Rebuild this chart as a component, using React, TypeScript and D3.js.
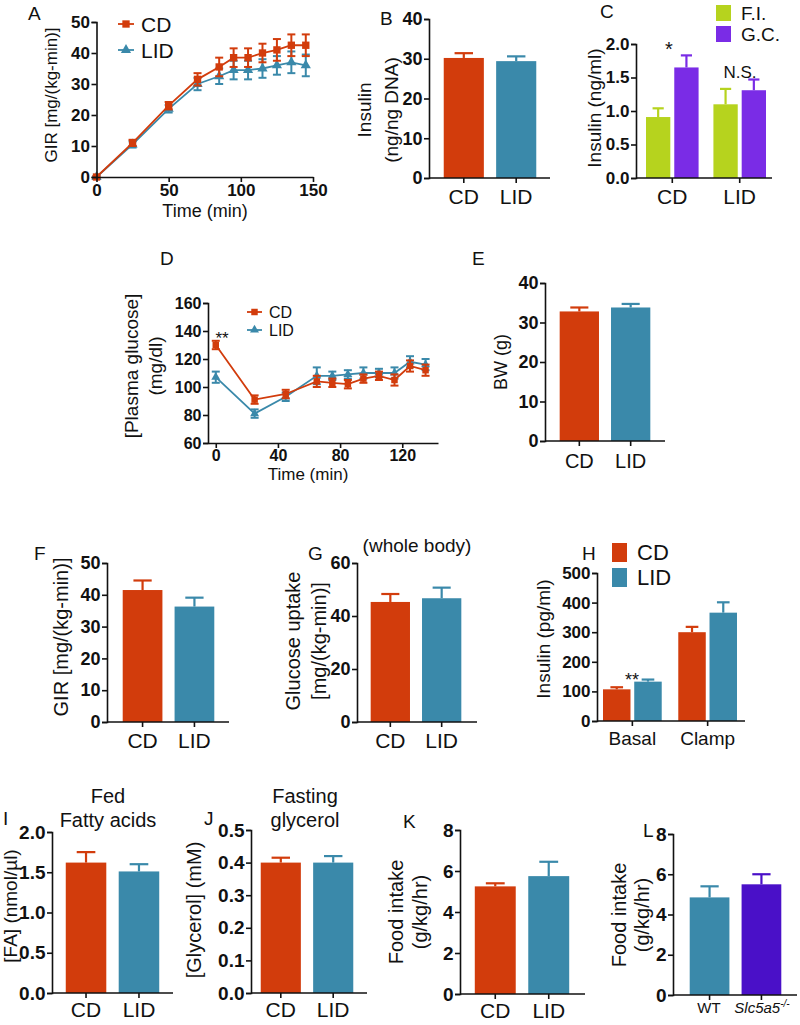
import React, { useRef, useEffect } from "react";
import * as d3 from "d3";

const FONT = "'Liberation Sans', Arial, Helvetica, sans-serif";
const RED = "#d23c0c";
const TEAL = "#3a89aa";
const LIME = "#b6d31e";
const VIOLET = "#7a2ce6";
const INDIGO = "#4a10c8";

// A: GIR time course
const aTime = [0, 25, 50, 70, 85, 95, 105, 115, 125, 135, 145];
const aCD = [0, 11, 23, 31.5, 35.5, 38.5, 38.5, 40, 41, 42.5, 42.5];
const aCDErr = [0.3, 1, 1.2, 2, 3, 3, 3, 3, 3.5, 3.5, 3.5];
const aLID = [0, 10.5, 22, 30, 32.5, 34.5, 34.5, 35, 36, 37, 36];
const aLIDErr = [0.3, 1, 1.2, 2, 2.5, 3, 3, 3, 3, 3.5, 3.5];

// B
const groupCats = ["CD", "LID"];
const bInsulin = [30.2, 29.4];
const bInsulinErr = [1.2, 1.2];

// C
const cSeries = ["F.I.", "G.C."];
const cFI = [0.91, 1.1];
const cFIErr = [0.13, 0.23];
const cGC = [1.65, 1.31];
const cGCErr = [0.18, 0.16];

// D: plasma glucose time course
const dTime = [0, 25, 45, 65, 75, 85, 95, 105, 115, 125, 135];
const dCD = [130, 91, 95, 104, 103, 102, 106, 108, 105, 115, 112];
const dCDErr = [3, 3, 3, 4, 3, 3, 3, 3, 4, 4, 4];
const dLID = [107, 81, 93, 108, 108, 109, 110, 110, 110, 118, 116];
const dLIDErr = [4, 3, 3, 6, 3, 3, 4, 3, 4, 4, 4];

// E
const eBW = [32.8, 33.8];
const eBWErr = [1.0, 0.9];

// F
const fGIR = [41.5, 36.3];
const fGIRErr = [3, 2.8];

// G
const gUptake = [45.3, 46.7];
const gUptakeErr = [3, 4];

// H
const hGroups = ["Basal", "Clamp"];
const hCD = [107, 300];
const hCDErr = [7, 18];
const hLID = [133, 366];
const hLIDErr = [7, 35];

// I, J, K
const iFA = [1.62, 1.51];
const iFAErr = [0.13, 0.09];
const jGlycerol = [0.4, 0.4];
const jGlycerolErr = [0.015, 0.02];
const kFood = [5.25, 5.75];
const kFoodErr = [0.15, 0.7];

// L
const lCats = ["WT", "Slc5a5"];
const lFood = [4.85, 5.5];
const lFoodErr = [0.55, 0.5];

function YAxis({ scale, x, ticks, fmt, size }: any) {
  const ref = useRef<SVGGElement>(null);
  useEffect(() => {
    const g = d3.select(ref.current);
    g.call(d3.axisLeft(scale).tickValues(ticks).tickSize(5).tickPadding(1.5).tickFormat(fmt));
    g.attr("font-family", null).attr("font-size", null);
    g.select(".domain").attr("stroke", "#111").attr("stroke-width", 1.6);
    g.selectAll(".tick line").attr("stroke", "#111").attr("stroke-width", 1.6);
    g.selectAll(".tick text")
      .attr("font-family", FONT)
      .attr("font-size", size)
      .attr("font-weight", "bold")
      .attr("fill", "#111");
  }, []);
  return <g ref={ref} transform={`translate(${x},0)`} />;
}

function XAxisLinear({ scale, y, ticks, size }: any) {
  const ref = useRef<SVGGElement>(null);
  useEffect(() => {
    const g = d3.select(ref.current);
    g.call(d3.axisBottom(scale).tickValues(ticks).tickSize(5).tickSizeOuter(0).tickPadding(2));
    g.attr("font-family", null).attr("font-size", null);
    g.select(".domain").attr("stroke", "#111").attr("stroke-width", 1.6);
    g.selectAll(".tick line").attr("stroke", "#111").attr("stroke-width", 1.6);
    g.selectAll(".tick text")
      .attr("font-family", FONT)
      .attr("font-size", size)
      .attr("font-weight", "bold")
      .attr("fill", "#111");
  }, []);
  return <g ref={ref} transform={`translate(0,${y})`} />;
}

function YTitle({ lines, x, y, size }: any) {
  return (
    <g>
      {lines.map((t: string, i: number) => (
        <text
          key={i}
          transform={`translate(${x[i]},${y}) rotate(-90)`}
          textAnchor="middle"
          dominantBaseline="middle"
          fontFamily={FONT}
          fontSize={size}
          fill="#111"
        >
          {t}
        </text>
      ))}
    </g>
  );
}

function Letter({ t, x, y }: any) {
  return (
    <text x={x} y={y} fontFamily={FONT} fontSize={19} fill="#111">
      {t}
    </text>
  );
}

// generic bar panel: groups along x, one or more series per group
function BarPanel({ p }: any) {
  const y = d3.scaleLinear().domain([0, p.max]).range([p.y0, p.y1]);
  const outer = d3
    .scaleBand()
    .domain(p.groups)
    .range([p.ax + p.padL, p.axEnd - p.padR])
    .paddingInner(p.outerPad ?? 0.13);
  const inner = d3
    .scaleBand()
    .domain(p.series.map((_: any, i: number) => String(i)))
    .range([0, outer.bandwidth()])
    .paddingInner(p.innerPad ?? 0.12);
  return (
    <g>
      {p.series.map((s: any, si: number) =>
        p.groups.map((gname: string, gi: number) => {
          const x0 = (outer(gname) as number) + (inner(String(si)) as number);
          const w = inner.bandwidth();
          const col = s.colors ? s.colors[gi] : s.color;
          const v = s.values[gi];
          const e = s.errs[gi];
          const cx = x0 + w / 2;
          const cw = w * 0.46;
          return (
            <g key={`${si}-${gi}`}>
              <line x1={cx} x2={cx} y1={y(v)} y2={y(v + e)} stroke={col} strokeWidth={2.2} />
              <line x1={cx - cw / 2} x2={cx + cw / 2} y1={y(v + e)} y2={y(v + e)} stroke={col} strokeWidth={2.2} />
              <rect x={x0} y={y(v)} width={w} height={y(0) - y(v)} fill={col} />
            </g>
          );
        })
      )}
      <YAxis scale={y} x={p.ax} ticks={p.ticks} fmt={p.fmt} size={p.tickSize} />
      <line x1={p.ax} x2={p.axEnd} y1={p.y0} y2={p.y0} stroke="#111" strokeWidth={1.6} />
      {p.groups.map((gname: string) => {
        const cx = (outer(gname) as number) + outer.bandwidth() / 2;
        return (
          <line key={gname} x1={cx} x2={cx} y1={p.y0} y2={p.y0 + 5} stroke="#111" strokeWidth={1.6} />
        );
      })}
      {p.catLabels !== false &&
        p.groups.map((gname: string) => {
          const cx = (outer(gname) as number) + outer.bandwidth() / 2;
          return (
            <text
              key={gname}
              x={cx}
              y={p.y0 + p.catDy}
              textAnchor="middle"
              fontFamily={FONT}
              fontSize={p.catSize}
              fill="#111"
            >
              {gname}
            </text>
          );
        })}
    </g>
  );
}

function LinePanel({ p }: any) {
  const x = d3.scaleLinear().domain(p.xDomain).range(p.xRange);
  const y = d3.scaleLinear().domain(p.yDomain).range(p.yRange);
  const line = d3
    .line<number>()
    .x((_, i) => x(p.time[i]))
    .y((d) => y(d));
  const tri = d3.symbol(d3.symbolTriangle, p.mk * 5)();
  const sq = d3.symbol(d3.symbolSquare, p.mk * 6)();
  const draw = (vals: number[], errs: number[], col: string, shape: string | null) => (
    <g>
      <path d={line(vals) as string} fill="none" stroke={col} strokeWidth={1.8} />
      {vals.map((v, i) => (
        <g key={i}>
          <line x1={x(p.time[i])} x2={x(p.time[i])} y1={y(v - errs[i])} y2={y(v + errs[i])} stroke={col} strokeWidth={2} />
          <line x1={x(p.time[i]) - 4} x2={x(p.time[i]) + 4} y1={y(v + errs[i])} y2={y(v + errs[i])} stroke={col} strokeWidth={2} />
          <line x1={x(p.time[i]) - 4} x2={x(p.time[i]) + 4} y1={y(v - errs[i])} y2={y(v - errs[i])} stroke={col} strokeWidth={2} />
          <path d={shape as string} transform={`translate(${x(p.time[i])},${y(v)})`} fill={col} />
        </g>
      ))}
    </g>
  );
  return (
    <g>
      {draw(p.lid, p.lidErr, TEAL, tri)}
      {draw(p.cd, p.cdErr, RED, sq)}
      <YAxis scale={y} x={p.xRange[0]} ticks={p.yTicks} fmt={d3.format("d")} size={p.tickSize} />
      <XAxisLinear scale={x} y={p.yRange[0]} ticks={p.xTicks} size={p.tickSize} />
      <text x={p.titleX} y={p.titleY} textAnchor="middle" fontFamily={FONT} fontSize={p.titleSize} fill="#111">
        Time (min)
      </text>
      {[
        { t: "CD", col: RED, shape: sq },
        { t: "LID", col: TEAL, shape: tri },
      ].map((l, i) => (
        <g key={l.t} transform={`translate(${p.legX},${p.legY + i * p.legStep})`}>
          <line x1={0} x2={p.legW} y1={0} y2={0} stroke={l.col} strokeWidth={1.8} />
          <path d={l.shape as string} transform={`translate(${p.legW / 2},0)`} fill={l.col} />
          <text x={p.legW + 7} y={0} dominantBaseline="central" fontFamily={FONT} fontSize={p.legSize} fill="#111">
            {l.t}
          </text>
        </g>
      ))}
    </g>
  );
}

function SwatchLegend({ items, x, y, step, sw, sh, size }: any) {
  return (
    <g>
      {items.map((it: any, i: number) => (
        <g key={it.t} transform={`translate(${x},${y + i * step})`}>
          <rect x={0} y={0} width={sw} height={sh} fill={it.col} />
          <text x={sw + 10} y={sh / 2} dominantBaseline="central" fontFamily={FONT} fontSize={size} fill="#111">
            {it.t}
          </text>
        </g>
      ))}
    </g>
  );
}

export default function App() {
  const f1 = d3.format(".1f");
  const fd = d3.format("d");
  const simple = (vals: number[], errs: number[], colors: string[]) => [{ values: vals, errs, colors }];

  const B = {
    ax: 429, axEnd: 550, padL: 12, padR: 11, y0: 178, y1: 19, max: 40, ticks: [0, 10, 20, 30, 40], fmt: fd,
    groups: groupCats, series: simple(bInsulin, bInsulinErr, [RED, TEAL]), tickSize: 18, catSize: 21, catDy: 26,
  };
  const C = {
    ax: 636, axEnd: 772, padL: 10, padR: 6, y0: 178, y1: 44, max: 2, ticks: [0, 0.5, 1, 1.5, 2], fmt: f1,
    groups: groupCats, outerPad: 0.22, innerPad: 0.14, tickSize: 17, catSize: 21, catDy: 26,
    series: [
      { values: cFI, errs: cFIErr, color: LIME },
      { values: cGC, errs: cGCErr, color: VIOLET },
    ],
  };
  const E = {
    ax: 545, axEnd: 665, padL: 12, padR: 12, y0: 441, y1: 283, max: 40, ticks: [0, 10, 20, 30, 40], fmt: fd,
    groups: groupCats, series: simple(eBW, eBWErr, [RED, TEAL]), tickSize: 18, catSize: 20, catDy: 27,
  };
  const F = {
    ax: 107, axEnd: 229, padL: 13, padR: 12, y0: 722, y1: 563, max: 50, ticks: [0, 10, 20, 30, 40, 50], fmt: fd,
    groups: groupCats, series: simple(fGIR, fGIRErr, [RED, TEAL]), tickSize: 18, catSize: 21, catDy: 26,
  };
  const G = {
    ax: 357, axEnd: 477, padL: 11, padR: 13, y0: 722, y1: 563, max: 60, ticks: [0, 20, 40, 60], fmt: fd,
    groups: groupCats, series: simple(gUptake, gUptakeErr, [RED, TEAL]), tickSize: 18, catSize: 21, catDy: 26,
  };
  const H = {
    ax: 597, axEnd: 745, padL: 6, padR: 8, y0: 721, y1: 573, max: 500, ticks: [0, 100, 200, 300, 400, 500], fmt: fd,
    groups: hGroups, outerPad: 0.22, innerPad: 0.12, tickSize: 17, catSize: 19, catDy: 24,
    series: [
      { values: hCD, errs: hCDErr, color: RED },
      { values: hLID, errs: hLIDErr, color: TEAL },
    ],
  };
  const I = {
    ax: 52, axEnd: 173, padL: 11, padR: 11, y0: 993, y1: 832, max: 2, ticks: [0, 0.5, 1, 1.5, 2], fmt: f1,
    groups: groupCats, series: simple(iFA, iFAErr, [RED, TEAL]), tickSize: 19, catSize: 21, catDy: 24,
  };
  const J = {
    ax: 251, axEnd: 367, padL: 7, padR: 11, y0: 993, y1: 830, max: 0.5, ticks: [0, 0.1, 0.2, 0.3, 0.4, 0.5], fmt: f1,
    groups: groupCats, series: simple(jGlycerol, jGlycerolErr, [RED, TEAL]), tickSize: 19, catSize: 21, catDy: 24,
  };
  const K = {
    ax: 460, axEnd: 585, padL: 12, padR: 13, y0: 994, y1: 830, max: 8, ticks: [0, 2, 4, 6, 8], fmt: fd,
    groups: groupCats, series: simple(kFood, kFoodErr, [RED, TEAL]), tickSize: 19, catSize: 21, catDy: 24,
  };
  const L = {
    ax: 673, axEnd: 797, padL: 14, padR: 13, y0: 995, y1: 834, max: 8, ticks: [0, 2, 4, 6, 8], fmt: fd,
    groups: lCats, series: simple(lFood, lFoodErr, [TEAL, INDIGO]), tickSize: 19, catLabels: false,
  };

  const A = {
    time: aTime, cd: aCD, cdErr: aCDErr, lid: aLID, lidErr: aLIDErr,
    xDomain: [0, 150], xRange: [96.5, 313], yDomain: [0, 50], yRange: [177, 22],
    xTicks: [0, 50, 100, 150], yTicks: [0, 10, 20, 30, 40, 50], tickSize: 17, mk: 9,
    titleX: 205, titleY: 217, titleSize: 18,
    legX: 118, legY: 24, legStep: 26, legW: 16, legSize: 21,
  };
  const D = {
    time: dTime, cd: dCD, cdErr: dCDErr, lid: dLID, lidErr: dLIDErr,
    xDomain: [-5, 143], xRange: [208, 438], yDomain: [60, 160], yRange: [443, 303],
    xTicks: [0, 40, 80, 120], yTicks: [60, 80, 100, 120, 140, 160], tickSize: 16, mk: 7,
    titleX: 308, titleY: 480, titleSize: 17,
    legX: 247, legY: 312, legStep: 18, legW: 15, legSize: 16,
  };

  return (
    <svg
      width={800}
      height={1025}
      style={{ position: "absolute", left: 0, top: 0, background: "#fff" }}
    >
      <rect width={800} height={1025} fill="#fff" />

      {/* A */}
      <Letter t="A" x={28} y={20} />
      <LinePanel p={A} />
      <YTitle lines={["GIR [mg/(kg-min)]"]} x={[53]} y={95} size={17} />

      {/* B */}
      <Letter t="B" x={380} y={25} />
      <BarPanel p={B} />
      <YTitle lines={["Insulin", "(ng/ng DNA)"]} x={[366, 393]} y={110} size={19} />

      {/* C */}
      <Letter t="C" x={600} y={18} />
      <BarPanel p={C} />
      <YTitle lines={["Insulin (ng/ml)"]} x={[596]} y={108} size={19} />
      <SwatchLegend
        items={[
          { t: cSeries[0], col: LIME },
          { t: cSeries[1], col: VIOLET },
        ]}
        x={716} y={5} step={21} sw={15} sh={16} size={19}
      />
      <text x={669} y={56} textAnchor="middle" fontFamily={FONT} fontSize={20} fill="#111">*</text>
      <text x={740} y={78} textAnchor="middle" fontFamily={FONT} fontSize={17} fill="#111">N.S.</text>

      {/* D */}
      <Letter t="D" x={160} y={265} />
      <LinePanel p={D} />
      <YTitle lines={["[Plasma glucose]", "(mg/dl)"]} x={[133, 157]} y={366} size={19} />
      <text x={222} y={344} textAnchor="middle" fontFamily={FONT} fontSize={17} fill="#111">**</text>

      {/* E */}
      <Letter t="E" x={472} y={265} />
      <BarPanel p={E} />
      <YTitle lines={["BW (g)"]} x={[502]} y={362} size={18} />

      {/* F */}
      <Letter t="F" x={34} y={560} />
      <BarPanel p={F} />
      <YTitle lines={["GIR [mg/(kg-min)]"]} x={[63]} y={637} size={20} />

      {/* G */}
      <Letter t="G" x={308} y={560} />
      <BarPanel p={G} />
      <YTitle lines={["Glucose uptake", "[mg/(kg-min)]"]} x={[295, 321]} y={641} size={20} />
      <text x={417} y={552} textAnchor="middle" fontFamily={FONT} fontSize={19} fill="#111">(whole body)</text>

      {/* H */}
      <Letter t="H" x={582} y={560} />
      <BarPanel p={H} />
      <YTitle lines={["Insulin (pg/ml)"]} x={[545]} y={639} size={19} />
      <SwatchLegend
        items={[
          { t: "CD", col: RED },
          { t: "LID", col: TEAL },
        ]}
        x={612} y={543} step={25} sw={15} sh={19} size={22}
      />
      <text x={632} y={686} textAnchor="middle" fontFamily={FONT} fontSize={18} fill="#111">**</text>

      {/* I */}
      <Letter t="I" x={3} y={825} />
      <BarPanel p={I} />
      <YTitle lines={["[FA] (nmol/µl)"]} x={[12]} y={906} size={19} />
      <text x={108} y={803} textAnchor="middle" fontFamily={FONT} fontSize={20} fill="#111">Fed</text>
      <text x={108} y={827} textAnchor="middle" fontFamily={FONT} fontSize={20} fill="#111">Fatty acids</text>

      {/* J */}
      <Letter t="J" x={204} y={825} />
      <BarPanel p={J} />
      <YTitle lines={["[Glycerol] (mM)"]} x={[196]} y={910} size={20} />
      <text x={305} y={803} textAnchor="middle" fontFamily={FONT} fontSize={20} fill="#111">Fasting</text>
      <text x={305} y={827} textAnchor="middle" fontFamily={FONT} fontSize={20} fill="#111">glycerol</text>

      {/* K */}
      <Letter t="K" x={403} y={828} />
      <BarPanel p={K} />
      <YTitle lines={["Food intake", "(g/kg/hr)"]} x={[398, 422]} y={912} size={20} />

      {/* L */}
      <Letter t="L" x={643} y={837} />
      <BarPanel p={L} />
      <YTitle lines={["Food intake", "(g/kg/hr)"]} x={[621, 644]} y={915} size={20} />
      <text x={709} y={1013} textAnchor="middle" fontFamily={FONT} fontSize={15} fill="#111">WT</text>
      <text x={762} y={1013} textAnchor="middle" fontFamily={FONT} fontSize={15} fill="#111">
        <tspan fontStyle="italic">Slc5a5</tspan>
        <tspan fontStyle="italic" fontSize={10} dy={-6}>-/-</tspan>
      </text>
    </svg>
  );
}
